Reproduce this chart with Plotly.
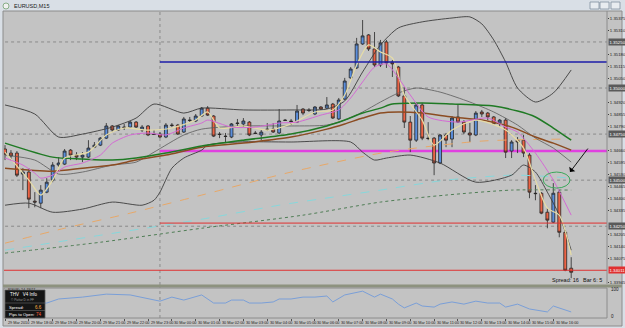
import plotly.graph_objects as go

# ---------------- data (EURUSD M15, 29 Mar 2010 17:00 -> 30 Mar 16:45) ----------------
bar_index = list(range(96))
open_ = [1.34669,1.34647,1.34647,1.34533,1.34544,1.34386,1.34375,1.34435,1.34500,1.34582,
         1.34587,1.34663,1.34636,1.34625,1.34625,1.34679,1.34690,1.34728,1.34794,1.34772,
         1.34788,1.34788,1.34815,1.34772,1.34794,1.34750,1.34750,1.34734,1.34799,1.34799,
         1.34761,1.34826,1.34821,1.34848,1.34891,1.34848,1.34750,1.34739,1.34734,1.34810,
         1.34805,1.34815,1.34756,1.34745,1.34777,1.34777,1.34756,1.34826,1.34821,1.34815,
         1.34886,1.34881,1.34859,1.34897,1.34891,1.34913,1.34832,1.34940,1.35055,1.35109,
         1.35239,1.35288,1.35212,1.35125,1.35250,1.35141,1.35114,1.34957,1.34815,1.34717,
         1.34908,1.34728,1.34728,1.34593,1.34745,1.34723,1.34843,1.34815,1.34756,1.34745,
         1.34870,1.34864,1.34843,1.34810,1.34826,1.34658,1.34717,1.34717,1.34636,1.34429,
         1.34429,1.34326,1.34272,1.34435,1.34217,1.34022]
high = [1.34690,1.34663,1.34658,1.34565,1.34565,1.34435,1.34473,1.34511,1.34598,1.34625,
        1.34669,1.34669,1.34652,1.34652,1.34717,1.34707,1.34734,1.34810,1.34799,1.34799,
        1.34805,1.34821,1.34821,1.34799,1.34799,1.34772,1.34761,1.34810,1.34810,1.34805,
        1.34843,1.34843,1.34859,1.34897,1.34902,1.34853,1.34761,1.34756,1.34810,1.34832,
        1.34837,1.34821,1.34767,1.34772,1.34810,1.34810,1.34886,1.34832,1.34832,1.34908,
        1.34891,1.34891,1.34902,1.34902,1.34951,1.34919,1.34946,1.35055,1.35114,1.35272,
        1.35369,1.35293,1.35304,1.35261,1.35261,1.35152,1.35120,1.35006,1.34848,1.34919,
        1.34919,1.34815,1.34734,1.34750,1.34756,1.34848,1.34908,1.34826,1.34810,1.34875,
        1.34881,1.34870,1.34848,1.34832,1.34837,1.34717,1.34734,1.34745,1.34647,1.34473,
        1.34435,1.34348,1.34484,1.34446,1.34228,1.34082]
low = [1.34609,1.34609,1.34517,1.34446,1.34348,1.34353,1.34348,1.34429,1.34489,1.34571,
       1.34582,1.34609,1.34609,1.34598,1.34620,1.34674,1.34685,1.34723,1.34761,1.34767,
       1.34772,1.34783,1.34783,1.34761,1.34739,1.34745,1.34728,1.34728,1.34788,1.34745,
       1.34756,1.34815,1.34815,1.34843,1.34848,1.34734,1.34728,1.34701,1.34728,1.34788,
       1.34788,1.34739,1.34750,1.34717,1.34767,1.34756,1.34750,1.34821,1.34799,1.34810,
       1.34853,1.34870,1.34853,1.34881,1.34886,1.34832,1.34826,1.34935,1.35049,1.35103,
       1.35234,1.35201,1.35114,1.35114,1.35109,1.35060,1.34951,1.34783,1.34652,1.34707,
       1.34717,1.34717,1.34527,1.34587,1.34679,1.34679,1.34810,1.34750,1.34707,1.34739,
       1.34843,1.34826,1.34799,1.34788,1.34620,1.34620,1.34647,1.34625,1.34402,1.34391,
       1.34315,1.34239,1.34267,1.34190,1.34006,1.33968]
close = [1.34641,1.34631,1.34527,1.34544,1.34397,1.34381,1.34446,1.34489,1.34582,1.34593,
         1.34658,1.34636,1.34625,1.34636,1.34674,1.34690,1.34728,1.34794,1.34772,1.34794,
         1.34786,1.34815,1.34788,1.34788,1.34745,1.34748,1.34734,1.34799,1.34797,1.34750,
         1.34832,1.34824,1.34848,1.34891,1.34853,1.34739,1.34748,1.34737,1.34805,1.34808,
         1.34821,1.34745,1.34753,1.34761,1.34775,1.34761,1.34821,1.34824,1.34818,1.34875,
         1.34864,1.34878,1.34897,1.34886,1.34908,1.34837,1.34935,1.35038,1.35103,1.35239,
         1.35283,1.35212,1.35125,1.35245,1.35136,1.35131,1.34957,1.34815,1.34717,1.34908,
         1.34728,1.34726,1.34593,1.34745,1.34717,1.34837,1.34815,1.34761,1.34745,1.34864,
         1.34859,1.34843,1.34805,1.34826,1.34652,1.34707,1.34707,1.34647,1.34435,1.34427,
         1.34321,1.34283,1.34429,1.34217,1.34011,1.34000]

# indicator lines (bar index -> value)
bb_up_x = [0,5,9,13,18,22,25,30,33,40,48,54,57,60,63,66,70,75,78,80,82,84,86,89,92,95]
bb_up_y = [1.34908,1.34859,1.34734,1.34750,1.34788,1.34837,1.34913,1.34864,1.34891,1.34881,
           1.34881,1.34886,1.34930,1.35087,1.35234,1.35326,1.35359,1.35380,1.35386,1.35348,
           1.35261,1.35141,1.35000,1.34924,1.34973,1.35098]
bb_lo_x = [0,4,8,13,18,23,25,26,28,30,33,34,39,48,58,60,62,64,68,73,79,85,87,89,91,93,95]
bb_lo_y = [1.34364,1.34375,1.34326,1.34343,1.34381,1.34364,1.34391,1.34435,1.34565,1.34620,
           1.34663,1.34690,1.34707,1.34707,1.34707,1.34652,1.34609,1.34620,1.34636,1.34593,
           1.34489,1.34527,1.34582,1.34544,1.34435,1.34310,1.34120]
bb_mid_x = [0,5,9,13,18,22,25,30,33,40,48,54,57,60,63,66,69,73,78,82,86,89,92,95]
bb_mid_y = [1.34636,1.34609,1.34533,1.34544,1.34582,1.34598,1.34652,1.34745,1.34777,1.34794,
            1.34794,1.34799,1.34826,1.34870,1.34924,1.34973,1.35000,1.34978,1.34924,1.34870,
            1.34799,1.34728,1.34674,1.34598]
green_x = [0,8,13,18,22,27,33,40,48,54,57,60,63,65,70,75,82,86,89,92,95]
green_y = [1.34701,1.34625,1.34615,1.34609,1.34620,1.34647,1.34685,1.34717,1.34750,1.34794,
           1.34826,1.34864,1.34891,1.34913,1.34919,1.34913,1.34902,1.34875,1.34843,1.34783,1.34717]
brown_x = [0,8,13,18,22,27,33,40,48,54,57,60,63,66,70,75,80,85,89,92,95]
brown_y = [1.34565,1.34549,1.34565,1.34582,1.34609,1.34636,1.34679,1.34701,1.34734,1.34777,
           1.34805,1.34837,1.34864,1.34870,1.34864,1.34843,1.34826,1.34788,1.34734,1.34701,1.34663]
pink_x = [0,3,5,6,8,10,13,16,18,21,24,27,30,33,34,38,42,46,49,53,56,58,60,62,64,66,68,71,76,81,84,86,89,92,95]
pink_y = [1.34620,1.34582,1.34538,1.34511,1.34527,1.34571,1.34593,1.34636,1.34701,1.34745,
          1.34756,1.34745,1.34783,1.34810,1.34826,1.34788,1.34788,1.34810,1.34815,1.34853,
          1.34881,1.34946,1.35033,1.35114,1.35131,1.35055,1.34962,1.34843,1.34815,1.34837,
          1.34788,1.34761,1.34647,1.34500,1.34310]
khaki_x = [0,4,6,8,10,14,17,20,24,28,32,34,36,40,44,48,52,55,57,59,61,63,65,67,70,72,75,79,84,87,89,91,93,95]
khaki_y = [1.34652,1.34500,1.34419,1.34500,1.34620,1.34652,1.34745,1.34783,1.34772,1.34783,
           1.34826,1.34870,1.34783,1.34794,1.34772,1.34805,1.34870,1.34881,1.34962,1.35125,
           1.35234,1.35196,1.35163,1.34962,1.34826,1.34690,1.34772,1.34826,1.34772,1.34674,
           1.34500,1.34348,1.34310,1.34093]
orange_x = [0,10,21,33,48,64,80,95]
orange_y = [1.34158,1.34239,1.34321,1.34419,1.34544,1.34652,1.34712,1.34723]
cyan_x = [0,16,33,46,55,63,74,85,90,95]
cyan_y = [1.34120,1.34201,1.34288,1.34364,1.34408,1.34446,1.34500,1.34527,1.34522,1.34511]
dkgreen_x = [0,16,33,50,63,74,85,95]
dkgreen_y = [1.34104,1.34163,1.34239,1.34310,1.34381,1.34419,1.34446,1.34446]

rsi_x = [0,3,7,9,13,17,21,24,26,28,30,33,35,37,38,40,41,43,45,46,48,50,52,54,55,57,60,62,63,65,
         66,67,69,70,72,73,75,77,79,81,83,84,86,88,90,91,92,94,95]
rsi_y = [40,45,48,63,70,81,78,63,55,70,59,78,48,48,59,59,48,48,52,63,63,70,70,74,52,78,92,70,81,63,
         44,30,48,37,33,44,52,44,55,48,48,33,44,26,18,15,37,22,15]

# horizontal levels
blue_level = 1.35141
magenta_level = 1.34658
red_level = 1.34267
bid_level = 1.34011
gray_levels = [1.35250, 1.35000, 1.34750, 1.34500, 1.34250]
# scale labels that remain visible beside the highlighted level labels
price_ticks = [1.33945,1.34075,1.34140,1.34205,1.34335,1.34400,1.34465,1.34530,
               1.34595,1.34660,1.34790,1.34855,1.34920,1.35050,1.35115,1.35180,
               1.35310,1.35375]
time_labels = ["29 Mar 2010","29 Mar 18:00","29 Mar 19:00","29 Mar 20:00","29 Mar 21:00",
               "29 Mar 22:00","29 Mar 23:00","30 Mar 00:00","30 Mar 01:00","30 Mar 02:00",
               "30 Mar 03:00","30 Mar 04:00","30 Mar 05:00","30 Mar 06:00","30 Mar 07:00",
               "30 Mar 08:00","30 Mar 09:00","30 Mar 10:00","30 Mar 11:00","30 Mar 12:00",
               "30 Mar 13:00","30 Mar 14:00","30 Mar 15:00","30 Mar 16:00"]
time_label_bars = [4 * k for k in range(len(time_labels))]

# ---------------- layout helpers ----------------
W, H = 625, 328
def fx(p): return p / W
def fy(p): return 1 - p / H

BAR0_PX, BAR_PX = 5.0, 5.96
x_range = [(4 - BAR0_PX) / BAR_PX, (607 - BAR0_PX) / BAR_PX]
y_range = [1.33931, 1.35418]
FONT = "Liberation Sans"

fig = go.Figure()

def line(xs, ys, color, width=1.0, dash="solid", shape="spline"):
    fig.add_trace(go.Scatter(x=xs, y=ys, mode="lines", hoverinfo="skip",
                             line=dict(color=color, width=width, dash=dash, shape=shape, smoothing=0.7),
                             showlegend=False, xaxis="x", yaxis="y"))

line(orange_x, orange_y, "#e8a868", 1, "dash")
line(cyan_x, cyan_y, "#86d8dc", 1, "dash")
line(dkgreen_x, dkgreen_y, "#4f7d55", 1, "dot")
line(bb_up_x, bb_up_y, "#3c3c3c", 0.9)
line(bb_lo_x, bb_lo_y, "#3c3c3c", 0.9)
line(bb_mid_x, bb_mid_y, "#5a5a5a", 0.8)
line(brown_x, brown_y, "#8b4c22", 1.5)
line(green_x, green_y, "#1f7a24", 1.5)
line(khaki_x, khaki_y, "#e6dca6", 1.2)
line(pink_x, pink_y, "#d46ad4", 1.0)

fig.add_trace(go.Candlestick(
    x=bar_index, open=open_, high=high, low=low, close=close,
    increasing=dict(fillcolor="#5b8edc", line=dict(color="#262626", width=0.8)),
    decreasing=dict(fillcolor="#ec6446", line=dict(color="#262626", width=0.8)),
    whiskerwidth=0, showlegend=False, hoverinfo="skip", xaxis="x", yaxis="y"))

fig.add_trace(go.Scatter(x=rsi_x, y=rsi_y, mode="lines", hoverinfo="skip", showlegend=False,
                         line=dict(color="#7a9fd8", width=1), xaxis="x2", yaxis="y2"))

shapes = []
for lv in gray_levels:
    shapes.append(dict(type="line", xref="x", yref="y", x0=-2, x1=110, y0=lv, y1=lv,
                       line=dict(color="#8a8a8a", width=1, dash="dot"), layer="below"))
shapes.append(dict(type="line", xref="x", yref="paper", x0=26, x1=26, y0=fy(285), y1=fy(11),
                   line=dict(color="#8a8a8a", width=1, dash="dot"), layer="below"))
shapes.append(dict(type="line", xref="x2", yref="paper", x0=26, x1=26, y0=fy(318), y1=fy(287),
                   line=dict(color="#8a8a8a", width=1, dash="dot"), layer="below"))
shapes.append(dict(type="line", xref="x", yref="y", x0=26, x1=110, y0=blue_level, y1=blue_level,
                   line=dict(color="#1c1ca8", width=1.5)))
shapes.append(dict(type="line", xref="x", yref="y", x0=26, x1=110, y0=magenta_level, y1=magenta_level,
                   line=dict(color="#e040e0", width=2.5), layer="below"))
shapes.append(dict(type="line", xref="x", yref="y", x0=26, x1=110, y0=red_level, y1=red_level,
                   line=dict(color="#e03030", width=1)))
shapes.append(dict(type="line", xref="x", yref="y", x0=-2, x1=110, y0=bid_level, y1=bid_level,
                   line=dict(color="#e03030", width=1)))
shapes.append(dict(type="circle", xref="x", yref="y", x0=90.3, x1=94.8, y0=1.34457, y1=1.34544,
                   line=dict(color="#3aa85a", width=1)))
# window frame (kept beneath the axis labels)
for rect in ((0, 1, fy(11), 1), (0, fx(3), 0, 1), (fx(622), 1, 0, 1), (0, 1, 0, fy(326))):
    shapes.append(dict(type="rect", xref="paper", yref="paper", x0=rect[0], x1=rect[1], y0=rect[2], y1=rect[3],
                       fillcolor="#d9dfe6", line=dict(width=0), layer="below"))
shapes.append(dict(type="rect", xref="paper", yref="paper", x0=fx(3), x1=fx(622), y0=fy(326), y1=fy(11),
                   fillcolor="rgba(0,0,0,0)", line=dict(color="#8c8c8c", width=1), layer="below"))
shapes.append(dict(type="rect", xref="paper", yref="paper", x0=fx(3), x1=fx(622), y0=fy(287.5), y1=fy(284.5),
                   fillcolor="#8d927f", line=dict(width=0)))
shapes.append(dict(type="line", xref="paper", yref="paper", x0=fx(607), x1=fx(607), y0=fy(284), y1=fy(11),
                   line=dict(color="#8c8c8c", width=1)))
shapes.append(dict(type="rect", xref="paper", yref="paper", x0=fx(4), x1=fx(607), y0=fy(318), y1=fy(288),
                   fillcolor="rgba(0,0,0,0)", line=dict(color="#8c8c8c", width=1)))
for bx in (590, 600, 611):
    shapes.append(dict(type="rect", xref="paper", yref="paper", x0=fx(bx), x1=fx(bx + 9), y0=fy(9), y1=fy(2),
                       fillcolor="#e8ecf0", line=dict(color="#8090a0", width=0.8)))
shapes.append(dict(type="circle", xref="paper", yref="paper", x0=fx(3), x1=fx(9), y0=fy(9), y1=fy(3),
                   fillcolor="#f0f0f0", line=dict(color="#70a070", width=0.8)))
# info box
shapes.append(dict(type="rect", xref="paper", yref="paper", x0=fx(5), x1=fx(45), y0=fy(318), y1=fy(290),
                   fillcolor="#151515", line=dict(color="#5a5a5a", width=0.8)))
shapes.append(dict(type="line", xref="paper", yref="paper", x0=fx(5), x1=fx(45), y0=fy(303), y1=fy(303),
                   line=dict(color="#6a6a6a", width=0.6)))
shapes.append(dict(type="line", xref="paper", yref="paper", x0=fx(5), x1=fx(45), y0=fy(310.5), y1=fy(310.5),
                   line=dict(color="#6a6a6a", width=0.6)))

ann = []
def txt(x, y, s, size=5, color="#1a1a1a", anchor="left", **kw):
    ann.append(dict(x=fx(x), y=fy(y), xref="paper", yref="paper", text=s, showarrow=False,
                    xanchor=anchor, yanchor="middle", font=dict(family=FONT, size=size, color=color), **kw))

txt(12, 6, "EURUSD,M15", 5.5, "#202020")
txt(550, 280, "Spread: 16", 5.5, "#101010")
txt(581, 280, "Bar 6: 5", 5.5, "#101010")
txt(6, 289, "RSI(8) 24.7877", 4, "#303030")
txt(8, 294.5, "THV   V4 Info", 4.5, "#ffffff")
txt(9, 299.5, "© Pattar D in FF", 3.2, "#9a9a9a")
txt(7, 307, "Spread:", 4.2, "#ffffff")
txt(44, 307, "6.6", 4.5, "#ffb040", "right")
txt(7, 314.5, "Pips to Open:", 4.2, "#ffffff")
txt(44, 314.5, "74", 4.5, "#ff5a30", "right")
txt(609, 289, "100", 4.5, "#202020")
txt(609, 316, "0", 4.5, "#202020")

for lbl, b in zip(time_labels, time_label_bars):
    ann.append(dict(x=b, y=fy(322.5), xref="x2", yref="paper", text=lbl, showarrow=False,
                    xanchor="left", yanchor="middle", xshift=0.5,
                    font=dict(family=FONT, size=3.8, color="#1a1a1a")))

for lv in gray_levels:
    ann.append(dict(x=fx(608), y=lv, xref="paper", yref="y", text=f"{lv:.5f}", showarrow=False,
                    xanchor="left", yanchor="middle", bgcolor="#5a5a5a", borderpad=0.5,
                    font=dict(family=FONT, size=4.3, color="#ffffff")))
ann.append(dict(x=fx(608), y=bid_level, xref="paper", yref="y", text=f"{bid_level:.5f}", showarrow=False,
                xanchor="left", yanchor="middle", bgcolor="#e03030", borderpad=0.5,
                font=dict(family=FONT, size=4.3, color="#ffffff")))

ann.append(dict(x=94.8, y=1.34544, xref="x", yref="y", ax=19, ay=-25, text="", showarrow=True,
                arrowhead=1, arrowsize=1.4, arrowwidth=0.9, arrowcolor="#000000"))

fig.update_layout(
    width=W, height=H, margin=dict(l=0, r=0, t=0, b=0),
    paper_bgcolor="#c3c3c3", plot_bgcolor="rgba(0,0,0,0)",
    showlegend=False, shapes=shapes, annotations=ann,
    xaxis=dict(domain=[fx(4), fx(607)], range=x_range, showgrid=False, zeroline=False,
               showticklabels=False, rangeslider=dict(visible=False), fixedrange=True),
    yaxis=dict(domain=[fy(285), fy(11)], range=y_range, side="right", anchor="x",
               showgrid=False, zeroline=False, tickvals=price_ticks, tickformat=".5f",
               ticks="outside", ticklen=1, tickcolor="#404040", ticklabelstandoff=0,
               tickfont=dict(family=FONT, size=4.3, color="#1a1a1a")),
    xaxis2=dict(domain=[fx(4), fx(607)], range=x_range, anchor="y2", showgrid=False, zeroline=False,
                showticklabels=False, tickvals=time_label_bars, ticks="outside", ticklen=2,
                tickcolor="#505050"),
    yaxis2=dict(domain=[fy(318), fy(287)], range=[-7.4, 107.4], side="right", anchor="x2",
                showgrid=False, zeroline=False, showticklabels=False),
)

fig.write_html("out.html")
